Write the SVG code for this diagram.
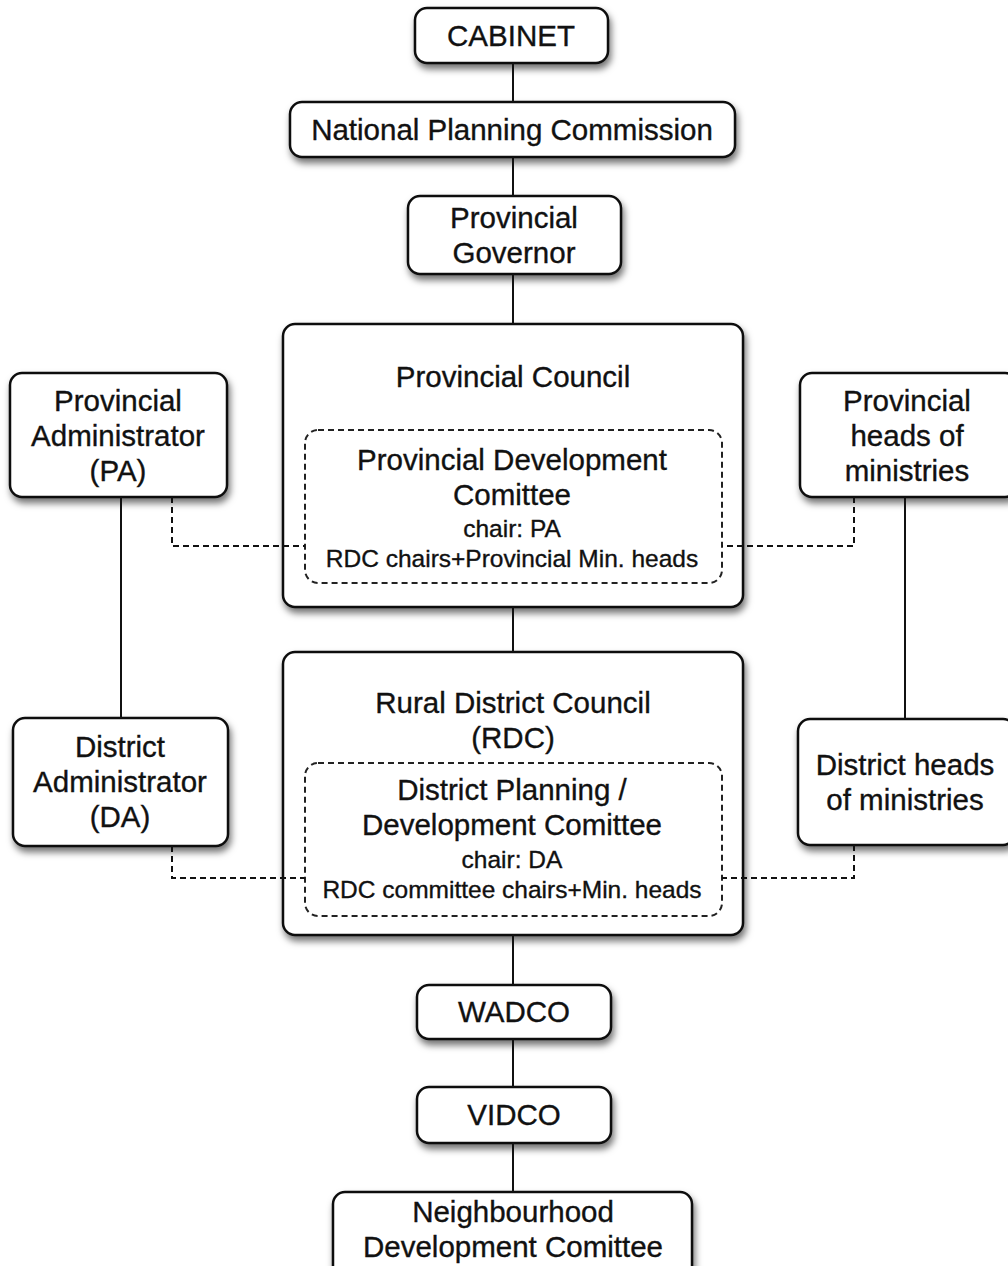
<svg xmlns="http://www.w3.org/2000/svg" width="1008" height="1266" viewBox="0 0 1008 1266">
<style>
.box{fill:#fff;stroke:#111;stroke-width:2.5;filter:url(#sh)}
.inner{fill:none;stroke:#222;stroke-width:2;stroke-dasharray:6 4}
.ln{fill:none;stroke:#111;stroke-width:2}
.dl{fill:none;stroke:#111;stroke-width:2;stroke-dasharray:6 4}
text{font-family:"Liberation Sans",Arial,Helvetica,sans-serif;fill:#111;stroke:#111;stroke-width:0.35;text-anchor:middle}
.t{font-size:29.5px}
.s{font-size:24.5px}
</style>
<defs>
<filter id="sh" x="-20%" y="-20%" width="140%" height="150%">
<feDropShadow dx="2" dy="5" stdDeviation="3.5" flood-color="#000" flood-opacity="0.55"/>
</filter>
</defs>
<rect width="1008" height="1266" fill="#fff"/>
<g id="cabinet">
<rect class="box" x="415" y="8" width="193" height="55" rx="12"/>
<text class="t" x="511" y="46">CABINET</text>
</g>
<g id="npc">
<rect class="box" x="290" y="102" width="445" height="55" rx="12"/>
<text class="t" x="512" y="140">National Planning Commission</text>
</g>
<g id="governor">
<rect class="box" x="408" y="196" width="213" height="78" rx="12"/>
<text class="t" x="514" y="228">Provincial</text>
<text class="t" x="514" y="263">Governor</text>
</g>
<g id="provincial-council">
<rect class="box" x="283" y="324" width="460" height="283" rx="12"/>
<text class="t" x="513" y="387">Provincial Council</text>
<g id="pdc">
<rect class="inner" x="305" y="430" width="417" height="153" rx="13"/>
<text class="t" x="512" y="470">Provincial Development</text>
<text class="t" x="512" y="505">Comittee</text>
<text class="s" x="512" y="537">chair: PA</text>
<text class="s" x="512" y="567">RDC chairs+Provincial Min. heads</text>
</g>
</g>
<g id="pa">
<rect class="box" x="10" y="373" width="217" height="124" rx="12"/>
<text class="t" x="118" y="411">Provincial</text>
<text class="t" x="118" y="446">Administrator</text>
<text class="t" x="118" y="481">(PA)</text>
</g>
<g id="prov-heads">
<rect class="box" x="800" y="373" width="217" height="124" rx="12"/>
<text class="t" x="907" y="411">Provincial</text>
<text class="t" x="907" y="446">heads of</text>
<text class="t" x="907" y="481">ministries</text>
</g>
<g id="rdc">
<rect class="box" x="283" y="652" width="460" height="283" rx="12"/>
<text class="t" x="513" y="713">Rural District Council</text>
<text class="t" x="513" y="748">(RDC)</text>
<g id="dpdc">
<rect class="inner" x="305" y="763" width="417" height="153" rx="13"/>
<text class="t" x="512" y="800">District Planning /</text>
<text class="t" x="512" y="835">Development Comittee</text>
<text class="s" x="512" y="868">chair: DA</text>
<text class="s" x="512" y="898">RDC committee chairs+Min. heads</text>
</g>
</g>
<g id="da">
<rect class="box" x="13" y="718" width="215" height="128" rx="12"/>
<text class="t" x="120" y="757">District</text>
<text class="t" x="120" y="792">Administrator</text>
<text class="t" x="120" y="827">(DA)</text>
</g>
<g id="district-heads">
<rect class="box" x="798" y="719" width="217" height="126" rx="12"/>
<text class="t" x="905" y="775">District heads</text>
<text class="t" x="905" y="810">of ministries</text>
</g>
<g id="wadco">
<rect class="box" x="417" y="985" width="194" height="54" rx="12"/>
<text class="t" x="514" y="1022">WADCO</text>
</g>
<g id="vidco">
<rect class="box" x="417" y="1087" width="194" height="56" rx="12"/>
<text class="t" x="514" y="1125">VIDCO</text>
</g>
<g id="ndc">
<rect class="box" x="333" y="1192" width="359" height="90" rx="12"/>
<text class="t" x="513" y="1222">Neighbourhood</text>
<text class="t" x="513" y="1257">Development Comittee</text>
</g>
<g id="connectors">
<line class="ln" x1="513" y1="63" x2="513" y2="102"/>
<line class="ln" x1="513" y1="157" x2="513" y2="196"/>
<line class="ln" x1="513" y1="274" x2="513" y2="324"/>
<line class="ln" x1="513" y1="607" x2="513" y2="652"/>
<line class="ln" x1="513" y1="935" x2="513" y2="985"/>
<line class="ln" x1="513" y1="1039" x2="513" y2="1087"/>
<line class="ln" x1="513" y1="1143" x2="513" y2="1192"/>
<line class="ln" x1="121" y1="497" x2="121" y2="718"/>
<line class="ln" x1="905" y1="497" x2="905" y2="719"/>
<polyline class="dl" points="172,497 172,546 305,546"/>
<polyline class="dl" points="854,497 854,546 722,546"/>
<polyline class="dl" points="172,846 172,878 305,878"/>
<polyline class="dl" points="854,845 854,878 722,878"/>
</g>
</svg>
